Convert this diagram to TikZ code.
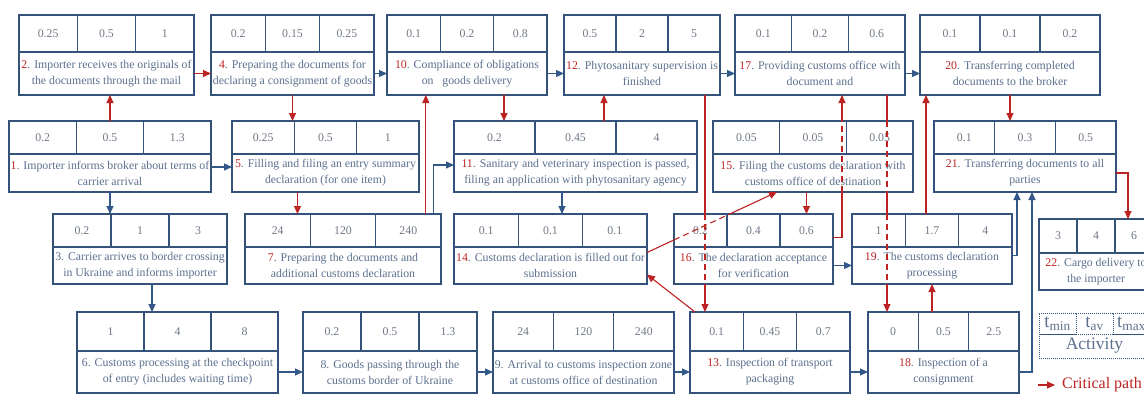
\documentclass[tikz,border=0pt]{standalone}
\usepackage{fontspec}
\setmainfont{Liberation Serif}
\usepackage{tikz}
\usetikzlibrary{arrows.meta,calc}

\definecolor{boxline}{RGB}{52,82,122}
\definecolor{desctext}{RGB}{92,112,142}
\definecolor{valtext}{RGB}{112,120,134}
\definecolor{critred}{RGB}{190,35,35}
\definecolor{flowblue}{RGB}{50,88,135}

\tikzstyle{valcell} = [rectangle, draw=boxline, line width=1.2pt, anchor=north west,
    inner sep=0pt, outer sep=0pt, text=valtext, font=\fontsize{11.8}{14}\selectfont]
\tikzstyle{desc} = [rectangle, draw=boxline, line width=1.2pt, anchor=north west,
    inner sep=1pt, outer sep=0pt, text=desctext, align=center, font=\fontsize{11.8}{16}\selectfont]
\tikzstyle{legcell} = [rectangle, draw=boxline, densely dotted, line width=1pt, anchor=north west,
    inner sep=0pt, outer sep=0pt, text=desctext]
\tikzstyle{crit} = [draw=critred, line width=1.1pt, -{Triangle[length=8pt,width=7pt]}]
\tikzstyle{flow} = [draw=flowblue, line width=1.1pt, -{Triangle[length=8pt,width=7pt]}]
\tikzstyle{behind} = [dash pattern=on 6pt off 4pt]

\newcommand{\cnum}[1]{\textcolor{critred}{#1}}
\newcommand{\rowsize}[2]{\def\toph{#1}\def\both{#2}}
% name, x, y, width, number, text, t_min, t_av, t_max
\newcommand{\activity}[9]{%
  \pgfmathsetmacro{\cellw}{#4/3}%
  \node [valcell, minimum width=\cellw pt, minimum height=\toph pt] (#1-1) at (#2,#3) {#7};
  \node [valcell, minimum width=\cellw pt, minimum height=\toph pt] (#1-2) at (#1-1.north east) {#8};
  \node [valcell, minimum width=\cellw pt, minimum height=\toph pt] (#1-3) at (#1-2.north east) {#9};
  \node [desc, minimum width=#4pt, minimum height=\both pt] (#1) at (#1-1.south west) {#5. #6};
}

\begin{document}
\begin{tikzpicture}[x=1pt,y=-1pt]
	\path[use as bounding box, fill=white] (0,0) rectangle (1144,394);

	% Place nodes
	\rowsize{37}{43}
	\activity{n2}{19}{15}{175}{\cnum{2}}{Importer receives the originals of\\the documents through the mail}{0.25}{0.5}{1}
	\activity{n4}{211}{15}{163}{\cnum{4}}{Preparing the documents for\\declaring a consignment of goods}{0.2}{0.15}{0.25}
	\activity{n10}{387}{15}{160}{\cnum{10}}{Compliance of obligations\\on~~~goods delivery}{0.1}{0.2}{0.8}
	\activity{n12}{564}{15}{156}{\cnum{12}}{Phytosanitary supervision is\\finished}{0.5}{2}{5}
	\activity{n17}{735}{15}{170}{\cnum{17}}{Providing customs office with\\document and}{0.1}{0.2}{0.6}
	\activity{n20}{920}{15}{180}{\cnum{20}}{Transferring completed\\documents to the broker}{0.1}{0.1}{0.2}

	\rowsize{33}{38}
	\activity{n1}{9}{121}{202}{\cnum{1}}{Importer informs broker about terms of\\carrier arrival}{0.2}{0.5}{1.3}
	\activity{n5}{232}{121}{187}{\cnum{5}}{Filling and filing an entry summary\\declaration (for one item)}{0.25}{0.5}{1}
	\activity{n11}{454}{121}{243}{\cnum{11}}{Sanitary and veterinary inspection is passed,\\filing an application with phytosanitary agency}{0.2}{0.45}{4}
	\activity{n15}{713}{121}{200}{\cnum{15}}{Filing the customs declaration with\\customs office of destination}{0.05}{0.05}{0.05}
	\activity{n21}{934}{121}{182}{\cnum{21}}{Transferring documents to all\\parties}{0.1}{0.3}{0.5}

	\rowsize{33}{37}
	\activity{n3}{53}{214}{174}{3}{Carrier arrives to border crossing\\in Ukraine and informs importer}{0.2}{1}{3}
	\activity{n7}{245}{214}{196}{\cnum{7}}{Preparing the documents and\\additional customs declaration}{24}{120}{240}
	\activity{n14}{454}{214}{193}{\cnum{14}}{Customs declaration is filled out for\\submission}{0.1}{0.1}{0.1}
	\activity{n16}{674}{214}{159}{\cnum{16}}{The declaration acceptance\\for verification}{0.2}{0.4}{0.6}
	\activity{n19}{852}{214}{160}{\cnum{19}}{The customs declaration\\processing}{1}{1.7}{4}
	\rowsize{34}{37}
	\activity{n22}{1039}{219}{114}{\cnum{22}}{Cargo delivery to\\the importer}{3}{4}{6}

	\rowsize{39}{42}
	\activity{n6}{77}{312}{201}{6}{Customs processing at the checkpoint\\of entry (includes waiting time)}{1}{4}{8}
	\activity{n8}{303}{312}{174}{8}{Goods passing through the\\customs border of Ukraine}{0.2}{0.5}{1.3}
	\activity{n9}{493}{312}{181}{9}{Arrival to customs inspection zone\\at customs office of destination}{24}{120}{240}
	\activity{n13}{690}{312}{160}{\cnum{13}}{Inspection of transport\\packaging}{0.1}{0.45}{0.7}
	\activity{n18}{868}{312}{151}{\cnum{18}}{Inspection of a\\consignment}{0}{0.5}{2.5}

	% Legend
	\node [legcell, minimum width=37pt, minimum height=21pt, font=\fontsize{19}{19}\selectfont] (lg-1) at (1039,313) {t\textsubscript{min}};
	\node [legcell, minimum width=37pt, minimum height=21pt, font=\fontsize{19}{19}\selectfont] (lg-2) at (lg-1.north east) {t\textsubscript{av}};
	\node [legcell, minimum width=37pt, minimum height=21pt, font=\fontsize{19}{19}\selectfont] (lg-3) at (lg-2.north east) {t\textsubscript{max}};
	\node [legcell, minimum width=111pt, minimum height=24pt, font=\fontsize{17.5}{18}\selectfont] (lg) at (lg-1.south west) {Activity};
	\node [anchor=west, inner sep=0pt, text=critred, font=\fontsize{16}{18}\selectfont] (cp) at (1062,385) {Critical path};
	\draw[crit] ([xshift=-24pt]cp.west) -- ([xshift=-7pt]cp.west);

	% Connectors, upper part
	\draw[crit] (n1-2.north) -- (n1-2.north |- n2.south);
	\draw[crit] (n2.east) -- (n4.west);
	\draw[flow] (n4.east) -- (n10.west);
	\draw[crit] (n4.south) -- (n4.south |- n5-1.north);
	\draw[flow] ([yshift=6pt]n1.east) -- ([yshift=6pt]n1.east -| n5.west);
	\draw[flow] (n1.south) -- (n1.south |- n3-1.north);
	\draw[crit] ([xshift=-28pt]n5.south) -- ([xshift=-28pt]n5.south |- n7-1.north);
	\draw[crit] ([xshift=17.5pt]n7-3.north) -- ([xshift=17.5pt]n7-3.north |- n10.south);
	\draw[flow] ([xshift=25.5pt]n7-3.north) |- ([yshift=8pt]n11.west);
	\draw[crit] ([xshift=37pt]n10.south) -- ([xshift=37pt]n10.south |- n11-1.north);
	\draw[flow] (n10.east) -- (n12.west);
	\draw[crit] ([xshift=28.5pt]n11-2.north) -- ([xshift=28.5pt]n11-2.north |- n12.south);
	\draw[flow] (n12.east) -- (n17.west);
	\draw[flow] (n17.east) -- (n20.west);
	\draw[flow] ([xshift=-13.5pt]n11.south) -- ([xshift=-13.5pt]n11.south |- n14-1.north);

	% 12 -> 13, dashed over 16
	\coordinate (x12) at ([xshift=63pt]n12.south);
	\draw[crit,-] (x12) -- (x12 |- n16-1.north);
	\draw[crit,-,behind] (x12 |- n16-1.north) -- (x12 |- n16.south);
	\draw[crit] (x12 |- n16.south) -- (x12 |- n13-1.north);

	% 13 -> 14 -> 15 -> 16
	\draw[crit] ([xshift=5pt]n13-1.north west) -- ([yshift=-9pt]n14.east);
	\coordinate (s14) at ([yshift=13pt]n14.east);
	\coordinate (e15) at ([xshift=-36pt]n15.south);
	\draw[crit,-] (s14) -- ($(s14)!0.208!(e15)$);
	\draw[crit,-,behind] ($(s14)!0.208!(e15)$) -- ($(s14)!0.626!(e15)$);
	\draw[crit] ($(s14)!0.626!(e15)$) -- (e15);
	\draw[crit] (n16-3.north |- n15.south) -- (n16-3.north);

	% 16 -> 17, dashed over 15
	\coordinate (x17) at ([xshift=22pt]n17.south);
	\draw[crit,-] ([yshift=-7pt]n16-3.east) -| (x17 |- n15.south);
	\draw[crit,-,behind] (x17 |- n15.south) -- (x17 |- n15-1.north);
	\draw[crit] (x17 |- n15-1.north) -- (x17);

	% 17 -> 18, dashed over 15 and 19
	\coordinate (y17) at ([xshift=67pt]n17.south);
	\draw[crit,-] (y17) -- (y17 |- n15-1.north);
	\draw[crit,-,behind] (y17 |- n15-1.north) -- (y17 |- n15.south);
	\draw[crit,-] (y17 |- n15.south) -- (y17 |- n19-1.north);
	\draw[crit,-,behind] (y17 |- n19-1.north) -- (y17 |- n19.south);
	\draw[crit] (y17 |- n19.south) -- (y17 |- n18-1.north);

	% 18, 19 -> 20, 21 -> 22
	\draw[crit] (n19.south |- n18-1.north) -- (n19.south);
	\draw[crit] ([xshift=6pt]n20.south west |- n19-1.north) -- ([xshift=6pt]n20.south west);
	\draw[crit] (n20.south) -- (n20.south |- n21-1.north);
	\draw[crit] (n21.east) -| ([xshift=-6pt]n22-3.north);
	\draw[flow] ([yshift=10pt]n19.east) -| ([xshift=-8pt]n21.south);
	\draw[flow] (n18.east) -| ([xshift=7pt]n21.south);
	\draw[flow] (n16.east) -- (n19.west);

	% Lower part
	\draw[flow] ([xshift=12pt]n3.south) -- ([xshift=12pt]n3.south |- n6-1.north);
	\draw[flow] (n6.east) -- (n8.west);
	\draw[flow] (n8.east) -- (n9.west);
	\draw[flow] (n9.east) -- (n13.west);
	\draw[flow] (n13.east) -- (n18.west);
\end{tikzpicture}
\end{document}
